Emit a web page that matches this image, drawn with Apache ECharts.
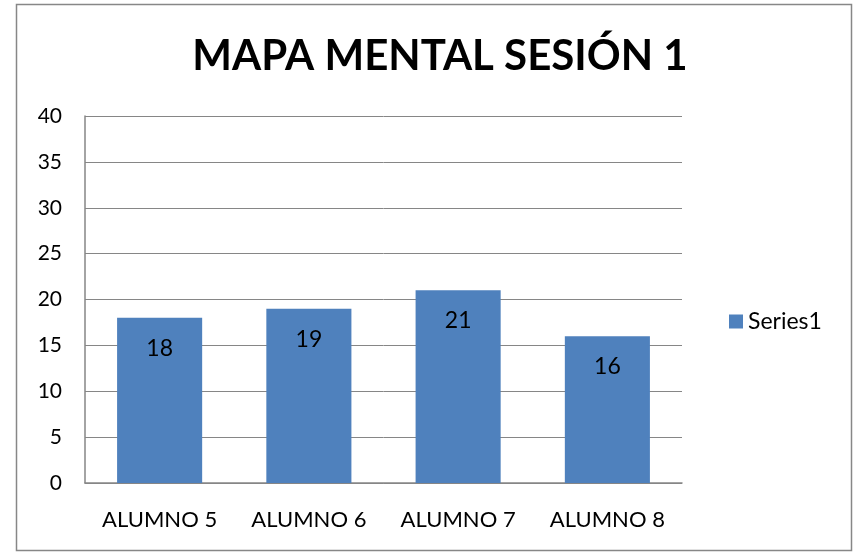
<!DOCTYPE html>
<html><head><meta charset="utf-8">
<script src="https://cdn.jsdelivr.net/npm/echarts@6/dist/echarts.min.js"></script>
<style>html,body{margin:0;padding:0;background:#fff}#c{width:858px;height:553px}</style>
</head><body><div id="c"></div>
<script>
const categories = ["ALUMNO 5", "ALUMNO 6", "ALUMNO 7", "ALUMNO 8"];
const values = [18, 19, 21, 16];
const seriesName = "Series1";
const titleText = "MAPA MENTAL SESIÓN 1";
const FONT = "Lato, 'Open Sans', sans-serif";
const chart = echarts.init(document.getElementById('c'));
chart.setOption({
  backgroundColor: '#fff',
  animation: false,
  graphic: [{type:'rect', shape:{x:16.5,y:4.5,width:835,height:546}, style:{fill:'none', stroke:'#878787', lineWidth:1.5}, silent:true}],
  title: {text: titleText, left: 435, textAlign: 'center', top: 30,
    textStyle:{fontFamily:FONT, fontWeight:'bold', fontSize:42, color:'#000'}},
  legend: {data:[seriesName], left: 724, top: 305, itemWidth:14, itemHeight:14, itemGap:7,
    icon:'rect', textStyle:{fontFamily:FONT, fontSize:23, color:'#000'}},
  grid: {left:85, right:176, top:116, bottom:70, containLabel:false},
  xAxis: {type:'category', data:categories,
    axisLine:{lineStyle:{color:'#868686', width:1.5}}, axisTick:{show:false},
    axisLabel:{interval:0, hideOverlap:false, fontFamily:FONT, fontSize:22, color:'#000', margin:26}},
  yAxis: {type:'value', min:0, max:40, interval:5,
    axisLine:{show:true, lineStyle:{color:'#868686', width:1.5}}, axisTick:{show:false},
    splitLine:{lineStyle:{color:'#868686', width:1}},
    axisLabel:{fontFamily:FONT, fontSize:21, color:'#000', margin:23}},
  series: [{name:seriesName, type:'bar', data:values, barWidth:'57%',
    itemStyle:{color:'#4F81BD'},
    label:{show:true, position:'insideTop', distance:19, fontFamily:FONT, fontSize:23, color:'#000'}}]
});
</script></body></html>
